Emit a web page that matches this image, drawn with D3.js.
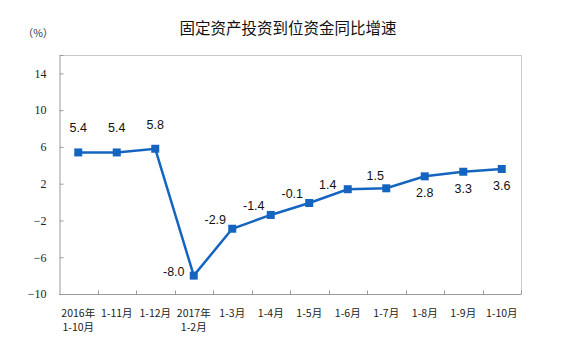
<!DOCTYPE html>
<html>
<head>
<meta charset="utf-8">
<script src="https://cdnjs.cloudflare.com/ajax/libs/d3/7.8.5/d3.min.js"></script>
<style>
  html, body { margin: 0; padding: 0; background: #fff; }
  svg { display: block; }
</style>
</head>
<body>
<svg id="chart" width="569" height="344"></svg>
<script>
// Categories: two-line x labels (first line, second line)
const categories = ["2016年 1-10月", "1-11月", "1-12月", "2017年 1-2月", "1-3月", "1-4月",
                    "1-5月", "1-6月", "1-7月", "1-8月", "1-9月", "1-10月"];
const labelLine1 = ["2016年", "1-11月", "1-12月", "2017年", "1-3月", "1-4月",
                    "1-5月", "1-6月", "1-7月", "1-8月", "1-9月", "1-10月"];
const labelLine2 = ["1-10月", "", "", "1-2月", "", "", "", "", "", "", "", ""];
// Year-on-year growth (%)
const values = [5.4, 5.4, 5.8, -8.0, -2.9, -1.4, -0.1, 1.4, 1.5, 2.8, 3.3, 3.6];
// Value label placement relative to the point
const labelPos = ["top", "top", "top", "left", "upleft", "upleft", "upleft", "left", "up", "below", "below", "below"];
const yTicks = [-10, -6, -2, 2, 6, 10, 14];
const title = "固定资产投资到位资金同比增速";
const unit = "（%）";

const svg = d3.select("#chart");
const plotL = 59, plotR = 521, plotT = 55, plotB = 294;

const x = d3.scaleBand().domain(categories).range([plotL, plotR]).padding(0);
const y = d3.scaleLinear().domain([-10, 16]).range([plotB, plotT]);
const cx = d => x(d) + x.bandwidth() / 2;

// Title and unit
svg.append("text").attr("x", 288).attr("y", 34).attr("text-anchor", "middle")
  .attr("font-family", "'Noto Sans CJK SC', sans-serif").attr("font-size", 15.5)
  .attr("fill", "#111").text(title);
svg.append("text").attr("x", 38).attr("y", 37).attr("text-anchor", "middle")
  .attr("font-family", "'Noto Sans CJK SC', sans-serif").attr("font-size", 10.5)
  .attr("fill", "#333").text(unit);

// Plot frame (top and right)
svg.append("path")
  .attr("d", `M${plotL},${plotT + 0.5}H${plotR + 0.5}V${plotB}`)
  .attr("fill", "none").attr("stroke", "#c8c8c8").attr("stroke-width", 1);

// Y axis
const yAxis = d3.axisLeft(y).tickValues(yTicks).tickSize(-4).tickPadding(13).tickFormat(d3.format("d"));
const gy = svg.append("g").attr("transform", `translate(${plotL + 0.5},0)`).call(yAxis);
gy.select(".domain").attr("stroke", "#9a9a9a");
gy.selectAll(".tick line").attr("stroke", "#9a9a9a");
gy.selectAll(".tick text").attr("font-family", "'Liberation Serif', serif").attr("font-size", 12)
  .attr("fill", "#222");

// X axis: ticks on band boundaries pointing inward
const gx = svg.append("g").attr("transform", `translate(0,${plotB + 0.5})`);
gx.append("line").attr("x1", plotL).attr("x2", plotR).attr("stroke", "#9a9a9a");
gx.selectAll("line.tk").data(categories).enter().append("line")
  .attr("class", "tk")
  .attr("x1", d => Math.round(x(d) + x.bandwidth()) + 0.5)
  .attr("x2", d => Math.round(x(d) + x.bandwidth()) + 0.5)
  .attr("y1", 0).attr("y2", -4).attr("stroke", "#9a9a9a");
const xl = gx.selectAll("g.lbl").data(categories).enter().append("g").attr("class", "lbl")
  .attr("transform", d => `translate(${cx(d)},0)`);
xl.append("text").attr("y", 22).attr("text-anchor", "middle")
  .attr("font-family", "'Noto Sans CJK SC', sans-serif").attr("font-size", 10.5).attr("fill", "#222")
  .text((d, i) => labelLine1[i]);
xl.append("text").attr("y", 36).attr("text-anchor", "middle")
  .attr("font-family", "'Noto Sans CJK SC', sans-serif").attr("font-size", 10.5).attr("fill", "#222")
  .text((d, i) => labelLine2[i]);

// Line
const color = "#1565c0";
const line = d3.line().x((d, i) => cx(categories[i])).y(d => y(d));
svg.append("path").datum(values).attr("d", line)
  .attr("fill", "none").attr("stroke", color).attr("stroke-width", 2.5);

// Markers
svg.selectAll("rect.mk").data(values).enter().append("rect").attr("class", "mk")
  .attr("x", (d, i) => cx(categories[i]) - 4).attr("y", d => y(d) - 4)
  .attr("width", 8).attr("height", 8).attr("fill", color);

// Value labels
const off = {
  top: [0, -20], left: [-20, 0], upleft: [-17, -5], up: [-11, -8], below: [0, 21]
};
svg.selectAll("text.val").data(values).enter().append("text").attr("class", "val")
  .attr("x", (d, i) => cx(categories[i]) + off[labelPos[i]][0])
  .attr("y", (d, i) => y(d) + off[labelPos[i]][1])
  .attr("text-anchor", "middle")
  .attr("font-family", "'Liberation Sans', Arial, sans-serif").attr("font-size", 12.5)
  .attr("fill", "#111")
  .text(d => d.toFixed(1));
</script>
</body>
</html>
